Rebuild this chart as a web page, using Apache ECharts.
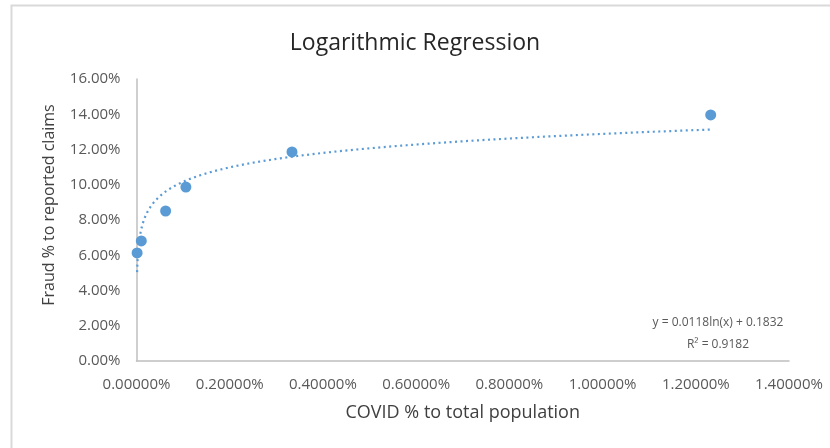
<!doctype html>
<html>
<head>
<meta charset="UTF-8">
<title>Logarithmic Regression</title>
<script src="https://cdn.jsdelivr.net/npm/echarts@6/dist/echarts.min.js"></script>
<style>
  html, body { margin: 0; padding: 0; background: #fff; }
  #chart { width: 830px; height: 448px; }
</style>
</head>
<body>
<div id="chart"></div>
<script>
// COVID % to total population (x, in %) and fraud % to reported claims (y, in %)
var covidPct = [0.0013, 0.0103, 0.0625, 0.106, 0.3336, 1.232];
var fraudPct = [6.13, 6.81, 8.51, 9.87, 11.86, 13.96];
// trendline shown on the chart: y = a*ln(x) + b (x, y as fractions)
var trendCoef = [0.0118, 0.1832];
var trendLabel = ['y = 0.0118ln(x) + 0.1832', 'R\u00b2 = 0.9182'];

var points = covidPct.map(function (x, i) { return [x, fraudPct[i]]; });

// sample the fitted curve between the first and last x
var trend = [];
var xmin = covidPct[0], xmax = covidPct[covidPct.length - 1];
for (var i = 0; i <= 100; i++) {
  trend.push(Math.exp(Math.log(xmin) + (Math.log(xmax) - Math.log(xmin)) * i / 100));
}
for (var j = 1; j < 100; j++) {
  trend.push(xmin + (xmax - xmin) * j / 100);
}
trend.sort(function (a, b) { return a - b; });
trend = trend.map(function (x) {
  return [x, 100 * (trendCoef[0] * Math.log(x / 100) + trendCoef[1])];
});

var font = '"Open Sans", Lato, sans-serif';
var chart = echarts.init(document.getElementById('chart'));
chart.setOption({
  backgroundColor: '#fff',
  animation: false,
  textStyle: { fontFamily: font },
  title: {
    text: 'Logarithmic Regression',
    left: 'center',
    top: 27,
    textStyle: { fontFamily: font, fontSize: 23, fontWeight: 'normal', color: '#262626' }
  },
  graphic: [{
    type: 'rect',
    shape: { x: 11.5, y: 5.5, width: 900, height: 500 },
    style: { fill: 'none', stroke: '#d9d9d9', lineWidth: 2 },
    silent: true
  }, {
    type: 'text',
    x: 49, y: 205,
    rotation: Math.PI / 2,
    style: {
      text: 'Fraud % to reported claims', align: 'center', verticalAlign: 'middle',
      fill: '#404040', font: '16px ' + font
    }
  }, {
    type: 'text',
    x: 718, y: 323,
    style: {
      text: trendLabel[0], align: 'center', verticalAlign: 'middle',
      fill: '#595959', font: '12px ' + font
    }
  }, {
    type: 'text',
    x: 718, y: 345,
    style: {
      text: trendLabel[1], align: 'center', verticalAlign: 'middle',
      fill: '#595959', font: '12px ' + font
    }
  }],
  grid: { left: 136.5, right: 41, top: 79, bottom: 87 },
  xAxis: {
    type: 'value',
    min: 0,
    max: 1.4,
    interval: 0.2,
    name: 'COVID % to total population',
    nameLocation: 'middle',
    nameGap: 43,
    nameTextStyle: { fontSize: 18, color: '#404040', fontFamily: font },
    axisLine: { show: true, lineStyle: { color: '#bfbfbf', width: 1.5 } },
    axisTick: { show: false },
    splitLine: { show: false },
    axisLabel: {
      color: '#595959', fontSize: 15, margin: 16,
      formatter: function (v) { return v.toFixed(5) + '%'; }
    }
  },
  yAxis: {
    type: 'value',
    min: 0,
    max: 16,
    interval: 2,
    axisLine: { show: true, lineStyle: { color: '#bfbfbf', width: 1.5 } },
    axisTick: { show: false },
    splitLine: { show: false },
    axisLabel: {
      color: '#595959', fontSize: 15, margin: 16,
      formatter: function (v) { return v.toFixed(2) + '%'; }
    }
  },
  series: [{
    type: 'line',
    data: trend,
    showSymbol: false,
    lineStyle: { color: '#5b9bd5', width: 2.2, type: [2, 3.5] },
    z: 2
  }, {
    type: 'scatter',
    data: points,
    symbolSize: 11,
    itemStyle: { color: '#5b9bd5', opacity: 1 },
    z: 3
  }]
});
</script>
</body>
</html>
